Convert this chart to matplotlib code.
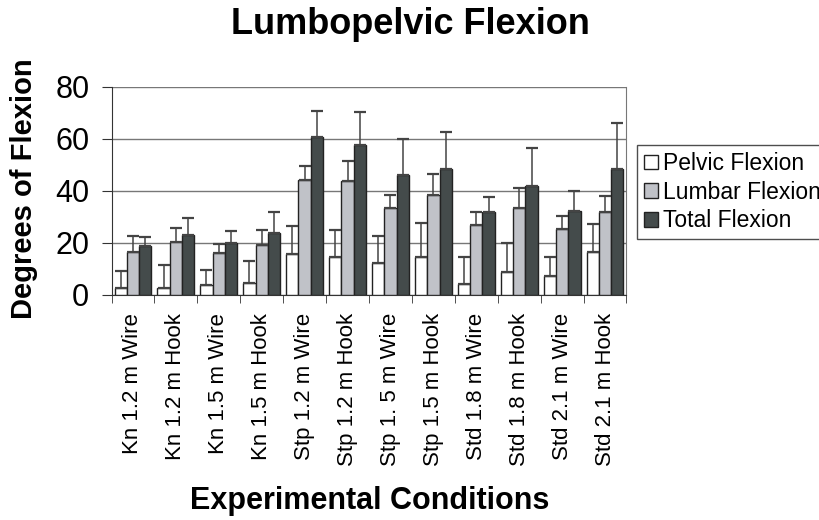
import numpy as np
import matplotlib
matplotlib.use("Agg")
import matplotlib.pyplot as plt

plt.rcParams["font.family"] = ["Liberation Sans", "DejaVu Sans"]

# values
conditions = ["Kn 1.2 m Wire", "Kn 1.2 m Hook", "Kn 1.5 m Wire", "Kn 1.5 m Hook",
              "Stp 1.2 m Wire", "Stp 1.2 m Hook", "Stp 1. 5 m Wire", "Stp 1.5 m Hook",
              "Std 1.8 m Wire", "Std 1.8 m Hook", "Std 2.1 m Wire", "Std 2.1 m Hook"]
pelvic = [2.6, 2.6, 3.7, 4.5, 15.9, 14.6, 12.3, 14.6, 4.1, 8.7, 7.3, 16.5]
pelvic_sd = [6.4, 8.9, 5.8, 8.7, 10.7, 10.5, 10.2, 12.9, 10.6, 11.4, 7.2, 10.8]
lumbar = [16.4, 20.5, 16.1, 19.2, 44.0, 43.8, 33.3, 38.3, 26.9, 33.3, 25.2, 32.0]
lumbar_sd = [6.1, 5.2, 3.4, 5.9, 5.5, 7.8, 5.2, 8.0, 4.9, 7.8, 5.0, 5.9]
total = [18.8, 23.0, 19.8, 23.7, 60.8, 57.6, 46.1, 48.4, 31.8, 41.7, 32.3, 48.4]
total_sd = [3.6, 6.4, 4.9, 8.3, 10.0, 12.6, 13.9, 14.1, 6.0, 14.6, 7.6, 17.8]

series = [("Pelvic Flexion", pelvic, pelvic_sd, "white"),
          ("Lumbar Flexion", lumbar, lumbar_sd, "#c0c2c8"),
          ("Total Flexion", total, total_sd, "#444b4b")]

fig = plt.figure(figsize=(8.2, 5.2), dpi=100)
ax = fig.add_axes([0.136, 0.433, 0.628, 0.400])

x = np.arange(len(conditions))
w = 0.287
for i, (name, vals, sd, col) in enumerate(series):
    pos = x + (i - 1) * w
    ax.bar(pos, vals, width=w, color=col, edgecolor="#222222", linewidth=1.0,
           label=name, zorder=3)
    # only the upper half of the error bar is drawn
    ax.errorbar(pos, vals, yerr=[np.zeros(len(sd)), sd], fmt="none",
                ecolor="#444444", elinewidth=1.1, capsize=4.5, capthick=1.6, zorder=4)

ax.set_xlim(-0.5, len(conditions) - 0.5)
ax.set_ylim(0, 80)
ax.set_yticks([0, 20, 40, 60, 80])
ax.yaxis.grid(True, color="#777777", linewidth=1.0, zorder=0)
ax.set_axisbelow(True)

ax.set_xticks(x)
ax.set_xticklabels(conditions, rotation=90, fontsize=16)
ax.tick_params(axis="x", length=0, pad=13)
ax.set_xticks(np.arange(len(conditions) + 1) - 0.5, minor=True)
ax.tick_params(axis="x", which="minor", length=6, direction="out", color="#333333")
ax.tick_params(axis="y", labelsize=22, length=7, direction="out", color="#333333", pad=9)

ax.spines["top"].set_visible(False)
ax.spines["right"].set_color("#777777")
ax.spines["left"].set_color("#333333")
ax.spines["bottom"].set_color("#333333")

fig.text(0.029, 0.637, "Degrees of Flexion", fontsize=21, fontweight="bold",
         rotation=90, ha="center", va="center")
fig.text(0.501, 0.952, "Lumbopelvic Flexion", fontsize=26, fontweight="bold",
         ha="center", va="center")
fig.text(0.451, 0.036, "Experimental Conditions", fontsize=22, fontweight="bold",
         ha="center", va="center")

fig.legend(loc="upper left", bbox_to_anchor=(0.777, 0.721), fontsize=16.5,
           frameon=True, fancybox=False, edgecolor="#222222", handlelength=0.6,
           handleheight=0.6, handletextpad=0.25, labelspacing=0.25, borderpad=0.3,
           borderaxespad=0)

fig.savefig("out.png", dpi=100)
